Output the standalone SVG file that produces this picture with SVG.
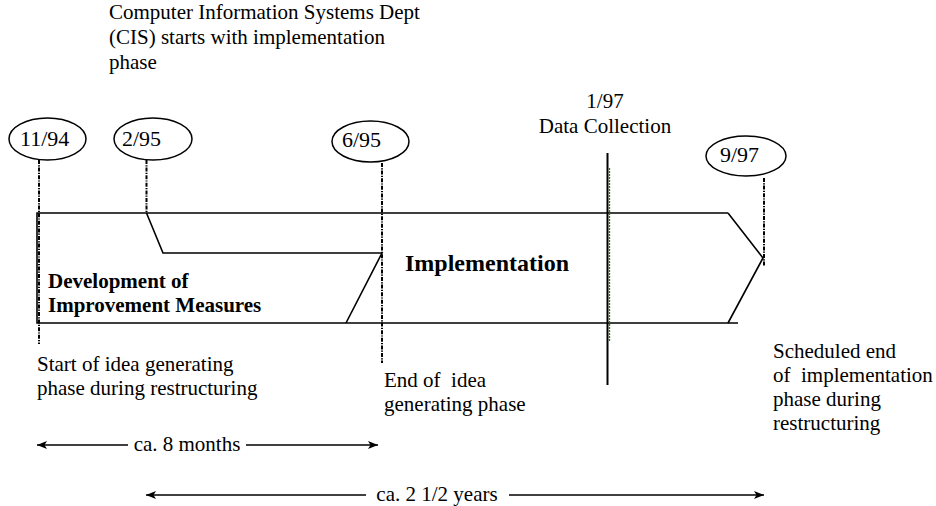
<svg xmlns="http://www.w3.org/2000/svg" width="936" height="506" viewBox="0 0 936 506">
  <style>
    text { font-family: "Liberation Serif", "Times New Roman", serif; font-size: 21px; fill: #000; white-space: pre; }
    .bold { font-weight: bold; }
    .date { font-size: 22px; }
    .oval { fill: #fff; stroke: #000; stroke-width: 1.5; }
    .band { fill: none; stroke: #000; stroke-width: 1.6; stroke-linejoin: miter; }
    .guide { fill: none; stroke: #000; stroke-width: 2; stroke-dasharray: 4 1.2 1.2 1.2; }
    .span { fill: none; stroke: #000; stroke-width: 1.5; }
  </style>
  <defs>
    <marker id="head" viewBox="0 0 10 8" refX="10" refY="4" markerWidth="10" markerHeight="8" markerUnits="userSpaceOnUse" orient="auto-start-reverse">
      <path d="M0,0 L10,4 L0,8 L2.5,4 Z" fill="#000"/>
    </marker>
  </defs>

  <rect width="936" height="506" fill="#fff"/>

  <!-- heading note -->
  <g id="note-cis">
    <text x="109" y="19">Computer Information Systems Dept</text>
    <text x="109" y="44">(CIS) starts with implementation</text>
    <text x="109" y="68.5">phase</text>
  </g>

  <!-- phase band -->
  <g id="phase-band">
    <polyline class="band" points="728,213 37,213 37,323 738,323"/>
    <polyline class="band" points="146.5,213 163,253 382,253 346,323"/>
    <polyline class="band" points="728,213 763,258 728,323"/>
  </g>

  <g id="phase-development">
    <text class="bold" x="48" y="288">Development of</text>
    <text class="bold" x="48" y="312">Improvement Measures</text>
  </g>

  <g id="phase-implementation">
    <text class="bold" x="405" y="271" style="font-size:24px">Implementation</text>
  </g>

  <!-- guide lines from the dates -->
  <g id="connectors">
    <line class="guide" x1="39" y1="160" x2="39" y2="344"/>
    <line class="guide" x1="146.5" y1="160" x2="146.5" y2="213"/>
    <line class="guide" x1="382" y1="163" x2="382" y2="363"/>
    <line class="guide" x1="764" y1="178" x2="764" y2="266"/>
    <!-- data collection marker -->
    <line x1="607.5" y1="153" x2="607.5" y2="385" stroke="#000" stroke-width="2"/>
    <line x1="609.5" y1="168" x2="609.5" y2="342" stroke="#3a6b12" stroke-width="1.3" stroke-dasharray="2 1"/>
    <!-- duration spans -->
    <line class="span" x1="37" y1="445" x2="128" y2="445" marker-start="url(#head)"/>
    <line class="span" x1="246" y1="445" x2="378" y2="445" marker-end="url(#head)"/>
    <line class="span" x1="146" y1="495" x2="366" y2="495" marker-start="url(#head)"/>
    <line class="span" x1="509" y1="495" x2="764" y2="495" marker-end="url(#head)"/>
  </g>

  <!-- dates -->
  <g id="date-1194">
    <ellipse class="oval" cx="47.5" cy="139" rx="38.5" ry="21"/>
    <text class="date" x="20" y="145.5">11/94</text>
  </g>
  <g id="date-0295">
    <ellipse class="oval" cx="153" cy="139" rx="39" ry="21"/>
    <text class="date" x="122" y="145.5">2/95</text>
  </g>
  <g id="date-0695">
    <ellipse class="oval" cx="370.5" cy="141.5" rx="38.5" ry="20.5"/>
    <text class="date" x="342" y="147">6/95</text>
  </g>
  <g id="date-0997">
    <ellipse class="oval" cx="746" cy="156" rx="40" ry="20"/>
    <text class="date" x="720" y="162">9/97</text>
  </g>

  <g id="data-collection">
    <text x="605" y="108" text-anchor="middle">1/97</text>
    <text x="605" y="133" text-anchor="middle">Data Collection</text>
  </g>

  <!-- milestone notes -->
  <g id="note-start">
    <text x="37" y="371">Start of idea generating</text>
    <text x="37" y="395">phase during restructuring</text>
  </g>
  <g id="note-end-idea">
    <text x="384" y="387">End of  idea</text>
    <text x="384" y="411">generating phase</text>
  </g>
  <g id="note-scheduled-end">
    <text x="773" y="358">Scheduled end</text>
    <text x="773" y="382">of  implementation</text>
    <text x="773" y="406">phase during</text>
    <text x="773" y="430">restructuring</text>
  </g>

  <g id="duration-labels">
    <text x="187" y="451" text-anchor="middle">ca. 8 months</text>
    <text x="437" y="501" text-anchor="middle">ca. 2 1/2 years</text>
  </g>
</svg>
